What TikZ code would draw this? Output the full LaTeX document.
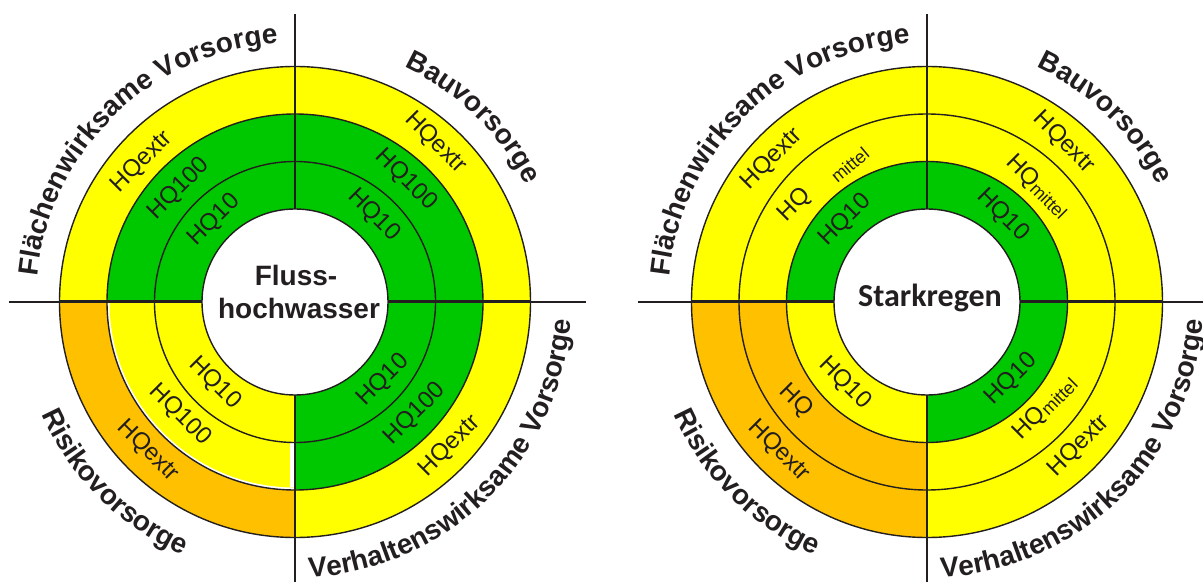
\documentclass[tikz,border=0pt]{standalone}
\usepackage{fontspec}
\setmainfont{Liberation Sans}
\newfontfamily\carlito{Carlito}
\usetikzlibrary{decorations.text}
\definecolor{ylw}{RGB}{255,255,0}
\definecolor{grn}{RGB}{0,200,0}
\definecolor{org}{RGB}{255,192,0}
\definecolor{ink}{RGB}{35,31,32}
% center, start angle, end angle, inner radius, outer radius, colour
\newcommand\ringsector[6]{%
  \fill[#6] ([shift={(#2:#5)}]#1) arc[start angle=#2,end angle=#3,radius=#5]
    -- ([shift={(#3:#4)}]#1) arc[start angle=#3,end angle=#2,radius=#4] -- cycle;}
\newcommand\qfont{\fontsize{28}{28}\selectfont\bfseries}
\newcommand\mittelsub{\raisebox{-2.5pt}{\fontsize{18}{18}\selectfont mittel}}
\begin{document}
\begin{tikzpicture}[x=1pt,y=1pt,
  hq/.style={font=\fontsize{24}{24}\selectfont, text=ink, inner sep=0pt},
  sub/.style={font=\fontsize{18}{18}\selectfont, text=ink, inner sep=0pt},
  ring/.style={draw=ink, line width=1.4},
  divider/.style={draw=ink, line width=2},
  thickdiv/.style={draw=ink, line width=3},
  qlabel/.style={decorate, decoration={text along path, text align=center, text color=ink, text={|\qfont|#1}}}]
\useasboundingbox (0,0) rectangle (1203,582);
\fill[white] (0,0) rectangle (1203,582);
\coordinate (L) at (295,280);
\coordinate (R) at (927,280);
% ---------------- left diagram sectors
\foreach \a/\b in {0/90,90/180,270/360}{
  \ringsector{L}{\a}{\b}{93}{140.5}{grn}
  \ringsector{L}{\a}{\b}{140.5}{188}{grn}
  \ringsector{L}{\a}{\b}{188}{235.5}{ylw}}
\ringsector{L}{180}{270}{93}{140.5}{ylw}
\ringsector{L}{180}{270}{140.5}{188}{white}
\ringsector{L}{180}{270}{140.5}{185.5}{ylw}
\ringsector{L}{180}{270}{188}{235.5}{org}
\fill[white] (289.5,95) rectangle (295,139);
% ---------------- right diagram sectors
\foreach \a/\b in {0/90,90/180,270/360}{
  \ringsector{R}{\a}{\b}{93}{140.5}{grn}
  \ringsector{R}{\a}{\b}{140.5}{188}{ylw}
  \ringsector{R}{\a}{\b}{188}{235.5}{ylw}}
\ringsector{R}{180}{270}{93}{140.5}{ylw}
\ringsector{R}{180}{270}{140.5}{188}{org}
\ringsector{R}{180}{270}{188}{235.5}{org}
% ---------------- dividing lines
\coordinate (Lw) at (8.5,280);   \coordinate (Le) at (586,280);
\coordinate (Ln) at (295,568);   \coordinate (Ls) at (295,0);
\coordinate (Rw) at (637.7,280); \coordinate (Re) at (1203,280);
\coordinate (Rn) at (927,568);   \coordinate (Rs) at (927,0);
\draw[divider] (Lw) -- (Le);
\draw[divider] (Ln) -- (Ls);
\draw[divider] (Rw) -- (Re);
\draw[divider] (Rn) -- (Rs);
\foreach \c in {L,R}{
  \draw[thickdiv] ([shift={(180:93)}]\c) -- ([shift={(180:235.5)}]\c);
  \draw[thickdiv] ([shift={(0:93)}]\c) -- ([shift={(0:235.5)}]\c);
  \foreach \r in {140.5,188,235.5}{\draw[ring] (\c) circle[radius=\r];}
  \fill[white] (\c) circle[radius=93];
  \draw[ring] (\c) circle[radius=93];
  % quadrant labels
  \path[qlabel={Flächenwirksame Vorsorge}] ([shift={(194:259)}]\c) arc[start angle=194,end angle=74,radius=259];
  \path[qlabel={Bauvorsorge}] ([shift={(106:259)}]\c) arc[start angle=106,end angle=-14,radius=259];
  \path[qlabel={Risikovorsorge}] ([shift={(165:277)}]\c) arc[start angle=165,end angle=285,radius=277];
  \path[qlabel={Verhaltenswirksame Vorsorge}] ([shift={(254.6:276)}]\c) arc[start angle=254.6,end angle=374.6,radius=276];
}
% ---------------- centre texts
\node[font=\fontsize{28}{28}\selectfont\bfseries, text=ink, anchor=base] (fl1) at (296,296) {Fluss-};
\node[font=\fontsize{28}{28}\selectfont\bfseries, text=ink, anchor=base] (fl2) at (299,263.7) {hochwasser};
\node[font=\fontsize{32}{32}\selectfont\carlito\bfseries, text=ink, anchor=base] (sk) at (930,275.3) {Starkregen};
% ---------------- left ring labels
\node[hq, rotate=45] (l1) at ([shift={(-153,140)}]L) {HQextr};
\node[hq, rotate=45] (l2) at ([shift={(-116,113)}]L) {HQ100};
\node[hq, rotate=45] (l3) at ([shift={(-81,82)}]L) {HQ10};
\node[hq, rotate=-45] (l4) at ([shift={(140.5,159)}]L) {HQextr};
\node[hq, rotate=-45] (l5) at ([shift={(111,122)}]L) {HQ100};
\node[hq, rotate=-45] (l6) at ([shift={(79,87)}]L) {HQ10};
\node[hq, rotate=-45] (l7) at ([shift={(-80,-81)}]L) {HQ10};
\node[hq, rotate=-45] (l8) at ([shift={(-115,-113)}]L) {HQ100};
\node[hq, rotate=-45] (l9) at ([shift={(-147,-149)}]L) {HQextr};
\node[hq, rotate=45] (l10) at ([shift={(88,-78)}]L) {HQ10};
\node[hq, rotate=45] (l11) at ([shift={(120,-112)}]L) {HQ100};
\node[hq, rotate=45] (l12) at ([shift={(155,-144)}]L) {HQextr};
% ---------------- right ring labels
\node[hq, rotate=45] (r1) at ([shift={(-155,143)}]R) {HQextr};
\node[hq, rotate=45] (r2) at ([shift={(-132,97)}]R) {HQ};
\node[sub, rotate=40] (r2b) at ([shift={(-77,137)}]R) {mittel};
\node[hq, rotate=45] (r3) at ([shift={(-82,82)}]R) {HQ10};
\node[hq, rotate=-45] (r4) at ([shift={(137,159.5)}]R) {HQextr};
\node[hq, rotate=-45] (r5) at ([shift={(110.5,115.3)}]R) {HQ\mittelsub};
\node[hq, rotate=-45] (r6) at ([shift={(76,87)}]R) {HQ10};
\node[hq, rotate=-45] (r7) at ([shift={(-82,-81)}]R) {HQ10};
\node[hq, rotate=-45] (r8) at ([shift={(-131,-98.5)}]R) {HQ};
\node[hq, rotate=-45] (r9) at ([shift={(-148,-149)}]R) {HQextr};
\node[hq, rotate=45] (r10) at ([shift={(84.5,-77)}]R) {HQ10};
\node[hq, rotate=45] (r11) at ([shift={(118,-106)}]R) {HQ\mittelsub};
\node[hq, rotate=45] (r12) at ([shift={(152,-144)}]R) {HQextr};
\end{tikzpicture}
\end{document}
